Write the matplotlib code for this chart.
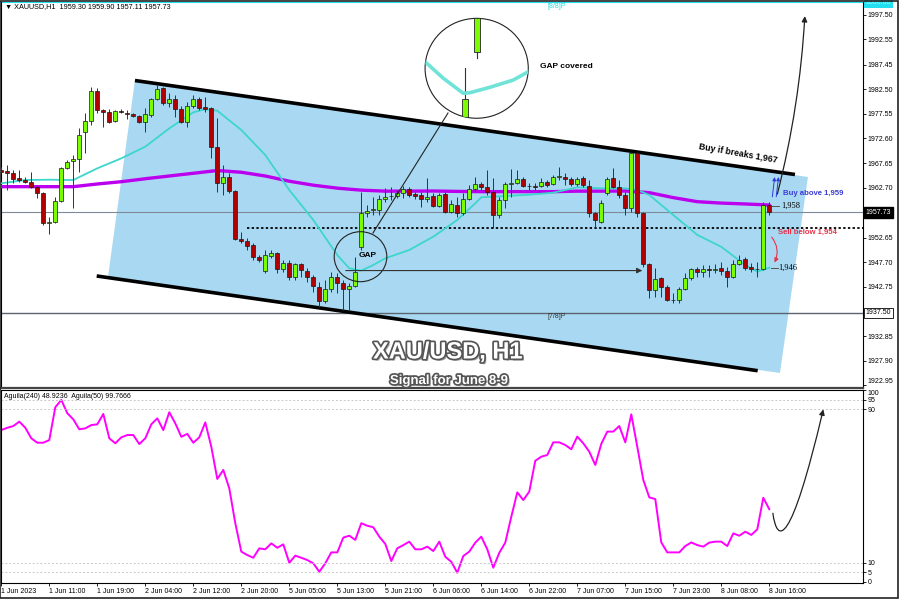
import matplotlib
matplotlib.use("Agg")
import matplotlib.pyplot as plt
import matplotlib.patheffects as pe
from matplotlib.patches import Polygon, Ellipse, Rectangle, FancyArrowPatch
from matplotlib.path import Path
import numpy as np

plt.rcParams['font.family'] = ['Liberation Sans', 'DejaVu Sans']

# XAUUSD H1 candles, 1 Jun 03:00 .. 8 Jun 16:00
opens = [1966.25, 1966.12, 1965.58, 1964.57, 1964.24, 1963.90, 1962.90, 1961.69, 1955.52, 1955.86,
         1960.08, 1966.59, 1968.06, 1968.40, 1973.83, 1976.18, 1982.15, 1978.32, 1977.99, 1976.04,
         1978.19, 1977.65, 1977.45, 1977.12, 1975.84, 1977.32, 1980.47, 1982.68, 1979.67, 1980.47,
         1978.46, 1975.98, 1979.13, 1980.47, 1978.86, 1978.66, 1970.95, 1963.57, 1964.91, 1962.09,
         1952.30, 1951.97, 1951.16, 1948.68, 1945.93, 1949.01, 1949.48, 1946.33, 1947.61, 1944.79,
         1947.27, 1946.00, 1944.79, 1942.78, 1939.89, 1942.24, 1944.79, 1943.45, 1942.24, 1942.91,
         1950.82, 1957.53, 1958.20, 1958.20, 1960.35, 1960.95, 1961.02, 1961.56, 1962.36, 1961.36,
         1961.22, 1960.42, 1961.02, 1959.07, 1961.42, 1957.87, 1959.21, 1957.53, 1960.42, 1962.36,
         1963.43, 1962.90, 1961.89, 1957.20, 1960.21, 1963.50, 1963.57, 1964.44, 1963.03, 1963.03,
         1963.10, 1963.77, 1963.43, 1964.91, 1964.78, 1964.44, 1963.37, 1964.71, 1963.03, 1957.53,
         1955.86, 1961.56, 1964.71, 1962.76, 1961.22, 1958.54, 1969.60, 1957.67, 1947.27, 1942.11,
         1944.59, 1942.78, 1940.09, 1940.09, 1942.24, 1944.45, 1946.26, 1945.79, 1946.26, 1946.22,
         1946.46, 1946.00, 1944.79, 1947.34, 1948.34, 1946.67, 1946.33, 1946.33, 1959.30]
highs = [1966.79, 1967.26, 1966.25, 1966.25, 1964.91, 1965.92, 1963.03, 1961.89, 1956.86, 1960.89,
         1966.79, 1968.26, 1969.27, 1974.63, 1977.65, 1983.02, 1982.68, 1978.46, 1978.46, 1978.32,
         1978.46, 1978.32, 1977.65, 1977.32, 1978.66, 1980.67, 1983.35, 1983.02, 1981.68, 1981.34,
         1979.13, 1980.00, 1981.34, 1981.00, 1981.00, 1978.99, 1976.65, 1967.26, 1965.58, 1962.23,
         1953.84, 1952.50, 1951.50, 1949.15, 1950.15, 1950.15, 1949.82, 1948.14, 1948.14, 1947.47,
         1947.61, 1946.46, 1945.12, 1943.78, 1944.12, 1945.79, 1945.46, 1944.12, 1943.45, 1948.81,
         1961.89, 1959.21, 1960.89, 1961.22, 1962.56, 1962.90, 1962.23, 1963.03, 1962.90, 1961.89,
         1961.89, 1964.57, 1961.56, 1961.56, 1961.89, 1960.21, 1960.89, 1961.56, 1963.23, 1964.91,
         1963.90, 1966.25, 1964.57, 1960.89, 1963.90, 1966.39, 1966.25, 1964.91, 1963.57, 1963.70,
         1964.57, 1964.24, 1965.25, 1966.79, 1965.58, 1964.78, 1964.91, 1965.05, 1964.24, 1957.87,
         1960.21, 1964.91, 1966.59, 1964.24, 1961.89, 1969.94, 1969.94, 1957.87, 1947.47, 1946.46,
         1944.79, 1943.11, 1941.44, 1942.78, 1945.46, 1946.46, 1946.67, 1947.14, 1947.14, 1947.34,
         1947.81, 1946.80, 1948.14, 1949.15, 1948.81, 1947.47, 1947.81, 1959.88, 1959.90]
lows = [1965.58, 1962.23, 1963.57, 1963.90, 1963.57, 1962.56, 1960.55, 1955.19, 1953.37, 1955.52,
        1959.88, 1966.39, 1958.54, 1965.92, 1969.74, 1975.31, 1977.65, 1974.97, 1975.64, 1975.90,
        1977.65, 1976.45, 1976.85, 1975.64, 1973.96, 1976.98, 1980.34, 1979.33, 1978.99, 1976.98,
        1975.78, 1974.97, 1978.66, 1978.32, 1977.99, 1968.60, 1961.89, 1961.22, 1961.56, 1952.17,
        1951.50, 1950.15, 1948.14, 1947.81, 1945.59, 1948.48, 1945.59, 1945.79, 1944.12, 1944.12,
        1944.79, 1943.78, 1941.77, 1938.75, 1939.42, 1941.77, 1941.44, 1938.08, 1938.08, 1942.78,
        1950.15, 1956.86, 1957.20, 1957.20, 1959.88, 1960.21, 1960.55, 1960.55, 1960.89, 1960.35,
        1958.87, 1959.88, 1958.87, 1958.87, 1957.67, 1957.67, 1956.86, 1957.20, 1960.21, 1961.89,
        1962.23, 1961.22, 1954.51, 1956.53, 1958.54, 1960.89, 1963.43, 1962.90, 1962.23, 1962.23,
        1962.90, 1962.90, 1963.23, 1964.24, 1963.23, 1963.03, 1963.03, 1962.90, 1956.86, 1954.85,
        1955.52, 1961.22, 1962.56, 1960.55, 1957.20, 1957.87, 1956.86, 1946.80, 1940.43, 1940.76,
        1940.76, 1939.96, 1939.56, 1939.56, 1942.11, 1944.12, 1944.79, 1944.79, 1944.79, 1945.46,
        1945.12, 1942.78, 1944.45, 1947.14, 1946.13, 1945.79, 1944.79, 1946.13, 1957.11]
closes = [1965.92, 1965.71, 1964.44, 1964.24, 1963.90, 1962.76, 1961.56, 1955.52, 1955.86, 1960.08,
          1966.59, 1967.93, 1968.40, 1973.29, 1976.18, 1982.15, 1978.32, 1977.99, 1975.98, 1978.19,
          1977.85, 1977.45, 1977.12, 1975.84, 1977.45, 1980.47, 1982.48, 1979.67, 1980.47, 1978.46,
          1975.98, 1979.13, 1980.47, 1978.66, 1978.59, 1970.95, 1963.57, 1964.91, 1962.09, 1952.30,
          1951.97, 1951.03, 1948.81, 1948.14, 1949.15, 1949.48, 1946.33, 1947.61, 1944.79, 1947.27,
          1946.13, 1944.79, 1942.91, 1939.89, 1942.24, 1944.79, 1943.45, 1942.24, 1942.91, 1945.79,
          1957.53, 1958.07, 1958.25, 1960.35, 1960.89, 1961.02, 1961.56, 1962.36, 1961.22, 1961.09,
          1960.42, 1960.89, 1959.07, 1961.22, 1957.87, 1959.34, 1957.53, 1960.42, 1962.36, 1963.43,
          1962.90, 1961.89, 1957.20, 1960.21, 1963.43, 1963.57, 1964.44, 1963.03, 1963.00, 1962.76,
          1963.77, 1963.23, 1964.78, 1964.95, 1964.44, 1963.37, 1964.44, 1963.23, 1957.53, 1956.19,
          1959.68, 1964.44, 1962.76, 1961.22, 1958.54, 1969.60, 1957.67, 1947.27, 1942.11, 1944.32,
          1942.78, 1940.09, 1940.05, 1942.24, 1944.45, 1946.26, 1945.79, 1946.26, 1946.22, 1946.26,
          1946.00, 1944.79, 1947.34, 1948.14, 1946.46, 1946.33, 1946.30, 1959.21, 1957.73]

# moving averages read at sample bars
ma_fast_bars = [0, 4, 8, 12, 16, 20, 24, 28, 32, 34, 36, 40, 44, 48, 52, 56, 58, 60, 62, 64,
                68, 72, 76, 79, 80, 84, 88, 92, 96, 100, 104, 106, 108, 112, 116, 120, 124, 126, 128]
ma_fast = [1963.58, 1964.24, 1964.30, 1964.24, 1966.59, 1968.60, 1970.95, 1974.63, 1977.86, 1978.50,
           1978.19, 1974.30, 1969.27, 1962.23, 1956.20, 1949.15, 1946.48, 1946.00, 1947.14, 1948.49,
           1950.16, 1952.84, 1956.20, 1959.55, 1960.76, 1961.02, 1961.29, 1961.69, 1962.77, 1962.57,
           1962.57, 1962.23, 1961.23, 1957.20, 1953.20, 1950.80, 1947.14, 1945.79, 1946.60]
ma_slow_bars = [0, 4, 8, 12, 16, 20, 24, 28, 32, 36, 40, 44, 48, 52, 56, 60, 64, 68, 72, 76,
                80, 84, 88, 92, 96, 100, 104, 108, 112, 116, 120, 124, 128]
ma_slow = [1962.90, 1962.90, 1962.90, 1962.90, 1963.44, 1963.90, 1964.50, 1965.05, 1965.60, 1966.15,
           1965.80, 1965.05, 1964.00, 1963.20, 1962.60, 1962.20, 1962.00, 1962.00, 1962.03, 1961.95,
           1961.90, 1961.90, 1961.90, 1961.90, 1962.00, 1962.00, 1962.03, 1961.70, 1960.70, 1959.88,
           1959.60, 1959.42, 1959.21]

aguila = [79.2, 80.4, 81.3, 83.6, 80.4, 74.9, 72.6, 72.6, 74.0, 91.1, 94.9, 88.0, 84.8, 79.6, 80.1,
          81.8, 82.2, 87.6, 74.9, 72.3, 75.4, 76.6, 76.6, 71.9, 74.9, 82.2, 85.3, 79.2, 88.5, 82.7,
          75.7, 77.2, 72.6, 75.4, 83.2, 70.5, 53.7, 58.4, 48.8, 30.6, 15.8, 14.0, 12.6, 17.5, 17.0,
          20.1, 17.8, 19.6, 10.0, 13.7, 12.6, 11.4, 9.7, 5.3, 9.7, 15.4, 15.4, 23.1, 24.1, 21.9,
          30.6, 29.3, 28.5, 23.6, 19.8, 10.9, 17.5, 19.2, 21.0, 17.0, 17.0, 18.4, 16.1, 21.0, 13.1,
          10.5, 4.8, 13.5, 15.8, 20.5, 23.6, 17.0, 7.4, 15.2, 20.5, 34.0, 46.7, 42.7, 47.1, 63.2,
          65.3, 66.2, 72.8, 72.8, 71.4, 69.2, 75.8, 72.3, 67.9, 61.0, 72.0, 78.4, 78.4, 81.3, 72.8,
          87.4, 70.5, 53.2, 44.1, 43.2, 20.6, 15.4, 15.4, 15.4, 18.7, 20.6, 19.2, 18.4, 20.5, 21.0,
          21.0, 18.7, 25.3, 24.1, 26.2, 24.5, 27.4, 43.9, 37.9]

time_labels = ["1 Jun 2023", "1 Jun 11:00", "1 Jun 19:00", "2 Jun 04:00", "2 Jun 12:00",
               "2 Jun 20:00", "5 Jun 05:00", "5 Jun 13:00", "5 Jun 21:00", "6 Jun 06:00",
               "6 Jun 14:00", "6 Jun 22:00", "7 Jun 07:00", "7 Jun 15:00", "7 Jun 23:00",
               "8 Jun 08:00", "8 Jun 16:00"]
price_ticks = [1997.50, 1992.55, 1987.45, 1982.50, 1977.55, 1972.60, 1967.65, 1962.70,
               1952.65, 1947.70, 1942.75, 1932.85, 1927.90, 1922.95]
last_price = 1957.73
murrey_78 = 1937.50
sell_level = 1954.6

# channel drawn on the chart (bar index, price)
upper_line = [(22.28, 1984.26), (132.28, 1965.35)]
lower_line = [(15.9, 1944.93), (126.07, 1925.87)]
channel_fill = [(22.28, 1984.36), (134.45, 1964.85), (129.78, 1925.41), (17.78, 1944.73)]
zoom_curve = [(70.62, 1988.05), (73.67, 1984.71), (77.0, 1981.69), (78.12, 1981.81),
              (81.45, 1982.9), (85.33, 1984.36), (87.83, 1986.03)]

W, H = 900, 600
fig = plt.figure(figsize=(9, 6), dpi=100)
fig.patch.set_facecolor('white')
ax = fig.add_axes([1 / W, 1 - 388 / H, 862 / W, 386 / H])
axs = fig.add_axes([1 / W, 1 - 583 / H, 862 / W, 193 / H])

xmin, xmax = -0.05, 143.62
ax.set_xlim(xmin, xmax)
ax.set_ylim(1922.39, 2000.06)
axs.set_xlim(xmin, xmax)
axs.set_ylim(-0.57, 100.1)

# channel
ax.add_patch(Polygon(channel_fill, closed=True, facecolor='#a9d9f2', edgecolor='none', zorder=1))
ax.plot(*zip(*upper_line), color='black', lw=2.6, zorder=4, solid_capstyle='butt')
ax.plot(*zip(*lower_line), color='black', lw=2.6, zorder=4, solid_capstyle='butt')

# horizontal levels
ax.axhline(2000.0, color='#20e0f0', lw=1.5, zorder=2)
ax.axhline(last_price, color='#7d8a98', lw=0.8, zorder=2)
ax.axhline(murrey_78, color='#5c6470', lw=1.0, zorder=2)
ax.hlines(sell_level, 40.95, xmax, colors='black', linestyles=(0, (1.3, 1.3)), lw=1.3, zorder=2)

# moving averages
ax.plot(ma_slow_bars, ma_slow, color='#bb00ee', lw=2.4, zorder=3, solid_capstyle='round')
ax.plot(ma_fast_bars, ma_fast, color='#3cd6cc', lw=1.3, zorder=3)

# candles
idx = np.arange(len(closes))
o = np.array(opens)
c = np.array(closes)
up = c >= o
ax.vlines(idx, lows, highs, color='#333333', lw=0.7, zorder=5)
ax.bar(idx, np.maximum(np.abs(c - o), 0.12), bottom=np.minimum(o, c), width=0.62,
       color=np.where(up, '#7cfc00', '#b00000'), edgecolor='#1a1a1a', lw=0.5, zorder=6)

# gap marks
ax.add_patch(Ellipse((59.87, 1948.81), 8.77, 10.06, fill=False, edgecolor='#222222', lw=0.8, zorder=7))
ax.text(61.1, 1949.15, 'GAP', fontsize=6, fontweight='bold', ha='center', va='center', zorder=8)
ax.annotate('', xy=(107.3, 1946.02), xytext=(56.95, 1946.02),
            arrowprops=dict(arrowstyle='-|>', color='#333333', lw=0.8, mutation_scale=8), zorder=7)
ax.plot([74.45, 61.95], [1977.72, 1953.58], color='#222222', lw=0.8, zorder=7)

# magnifier circle
circ = Ellipse((79.23, 1986.72), 17.2, 20.1, facecolor='white', edgecolor='#222222', lw=0.8, zorder=9)
ax.add_patch(circ)
top_c = Rectangle((79.3 - 0.55, 1990.06), 1.1, 6.72, facecolor='#7cfc00', edgecolor='#222', lw=0.6, zorder=10)
bot_c = Rectangle((77.3 - 0.55, 1976.98), 1.1, 3.56, facecolor='#7cfc00', edgecolor='#222', lw=0.6, zorder=10)
for art in [ax.add_patch(top_c), ax.add_patch(bot_c),
            ax.plot([79.3, 79.3], [1990.06, 1988.79], color='#333', lw=0.8, zorder=10)[0],
            ax.plot([77.3, 77.3], [1980.54, 1986.72], color='#333', lw=0.8, zorder=10)[0],
            ax.plot(*zip(*zoom_curve), color='#6fe3d8', lw=2.6, zorder=10)[0],
            ax.plot([79.3, 79.3], [1996.78, 2000], color='#333', lw=0.8, zorder=10)[0]]:
    art.set_clip_path(circ)
ax.text(89.8, 1987.18, 'GAP covered', fontsize=6, fontweight='bold', va='center', zorder=8)

# annotations on the right
ax.text(122.8, 1969.5, 'Buy if breaks 1,967', fontsize=6.3, fontweight='bold', rotation=-10,
        ha='center', va='center', zorder=8)
ax.text(130.3, 1961.43, 'Buy above 1,959', fontsize=5.6, fontweight='bold', color='#3b3bd6',
        va='center', zorder=8)
ax.text(129.45, 1953.64, 'Sell below 1,954', fontsize=5.6, fontweight='bold', color='#e8324a',
        va='center', zorder=8)
ax.plot([128.4, 129.7], [1959.0, 1959.0], color='#555', lw=0.7, zorder=8)
ax.text(130.0, 1959.0, '1,958', fontsize=6, family='Liberation Serif', va='center', zorder=8)
ax.plot([128.3, 129.4], [1946.48, 1946.48], color='#555', lw=0.7, zorder=8)
ax.text(129.5, 1946.48, '1,946', fontsize=6, family='Liberation Serif', va='center', zorder=8)
ax.text(91.1, 1936.74, '[7/8]P', fontsize=5, color='#333333', va='center', zorder=8)
ax.text(91.1, 1999.25, '[8/8]P', fontsize=5, color='#22dddd', va='center', zorder=8)

ax.add_patch(FancyArrowPatch((129.23, 1960.88), (133.95, 1997.78), connectionstyle='arc3,rad=0.05',
                             arrowstyle='-|>', mutation_scale=8, lw=0.9, color='#222222', zorder=8))
ax.add_patch(FancyArrowPatch((128.12, 1953.18), (128.67, 1947.14), connectionstyle='arc3,rad=-0.35',
                             arrowstyle='-|>', mutation_scale=6, lw=0.8, color='#e8324a', zorder=8))
for x0 in (128.45, 129.1):
    ax.annotate('', xy=(x0 + 0.5, 1965.4), xytext=(x0, 1960.3),
                arrowprops=dict(arrowstyle='-|>', color='#2a3cd8', lw=0.7, mutation_scale=5), zorder=8)

# oscillator
axs.plot(idx, aguila, color='#ff00ff', lw=1.4)
for lv in (95, 90, 10, 5):
    axs.axhline(lv, color='#c8c8c8', lw=0.7, ls=(0, (2, 2)))
curve = Path([(128.6, 35.8), (129.3, 20.0), (131.5, 17.0), (137.0, 90.0)],
             [Path.MOVETO, Path.CURVE4, Path.CURVE4, Path.CURVE4])
axs.add_patch(FancyArrowPatch(path=curve, arrowstyle='-|>', mutation_scale=8, lw=0.9, color='#222222'))

# axes styling
for a in (ax, axs):
    a.yaxis.tick_right()
    a.tick_params(axis='y', labelsize=5, length=2, pad=1.5, width=0.6)
    for s in ('left', 'right'):
        a.spines[s].set_linewidth(0.8)
ax.set_yticks(price_ticks)
ax.set_yticklabels([f'{p:.2f}' for p in price_ticks])
ax.get_yticklabels()[-1].set_va('bottom')
ax.set_xticks([])
ax.spines['top'].set_visible(False)
ax.spines['bottom'].set_linewidth(1.6)
ax.spines['bottom'].set_color('#444444')
axs.set_yticks([0, 5, 10, 90, 95, 100])
axs.set_yticklabels(['0', '5', '10', '90', '95', '100'])
axs.get_yticklabels()[-1].set_va('top')
axs.set_xticks(np.arange(0, 129, 8))
axs.set_xticklabels(time_labels, fontsize=5, ha='left')
axs.tick_params(axis='x', length=2, pad=1.5, width=0.6)

ybox = ax.get_yaxis_transform()
ax.text(1.003, last_price, f'{last_price:.2f}', transform=ybox, fontsize=5, color='white', va='center',
        bbox=dict(boxstyle='square,pad=0.25', facecolor='black', edgecolor='black'), clip_on=False)
ax.text(1.003, murrey_78, f'{murrey_78:.2f}', transform=ybox, fontsize=5, color='black', va='center',
        bbox=dict(boxstyle='square,pad=0.25', facecolor='white', edgecolor='black', lw=0.6), clip_on=False)
ax.text(1.003, 2000.0, '2000.00', transform=ybox, fontsize=5, color='#9ff', va='center',
        bbox=dict(boxstyle='square,pad=0.25', facecolor='#22e0f0', edgecolor='none'), clip_on=False)

# texts
fig.text(5 / W, 1 - 7 / H, '▼ XAUUSD,H1  1959.30 1959.90 1957.11 1957.73', fontsize=5.2, va='center')
fig.text(4 / W, 1 - 396 / H, 'Aguila(240) 48.9236  Aguila(50) 99.7666', fontsize=5, va='center')
title_fx = [pe.SimplePatchShadow(offset=(1.5, -1.5), alpha=0.5), pe.Stroke(linewidth=2.5, foreground='#555555'), pe.Normal()]
fig.text(448 / W, 1 - 352 / H, 'XAU/USD, H1', fontsize=17, fontweight='bold', color='white',
         ha='center', va='center', path_effects=title_fx)
fig.text(449 / W, 1 - 381 / H, 'Signal for June 8-9', fontsize=9.5, fontweight='bold', color='white',
         ha='center', va='center', path_effects=title_fx)

fig.add_artist(Rectangle((0.0005, 0.003), 0.997, 0.996, transform=fig.transFigure, fill=False,
                         edgecolor='#222222', lw=1.2))

fig.savefig('out.png', dpi=100)
